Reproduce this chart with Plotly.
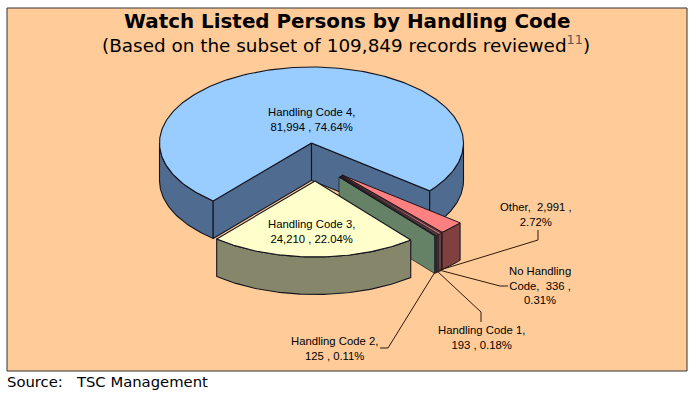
import numpy as np
import plotly.graph_objects as go

# Data, in drawing order around the pie (clockwise)
categories = ["Handling Code 4", "Other", "No Handling Code", "Handling Code 1", "Handling Code 2", "Handling Code 3"]
records = [81994, 2991, 336, 193, 125, 24210]
percent_labels = ["74.64%", "2.72%", "0.31%", "0.18%", "0.11%", "22.04%"]
title_text = "<b>Watch Listed Persons by Handling Code</b>"
subtitle_text = "(Based on the subset of 109,849 records reviewed<span style='color:#555555'><sup>11</sup></span>)"
source_text = "Source:   TSC Management"

# Style and layout
top_colors = ["#99CCFF", "#FF8080", "#CC7A7A", "#8F6A6A", "#CCFFCC", "#FFFFCC"]
side_colors = ["#4F6B8F", "#804040", "#8A4A4A", "#5A4A3A", "#658266", "#86866B"]
edge_widths = [1.1, 1.0, 0.6, 0.6, 0.7, 1.1]
offsets = [(0, 0), (30.5, 32), (29.5, 33), (28.5, 33.5), (27.5, 34), (3.5, 38)]
CX, CY, RX, RY, DEPTH = 311.5, 143.0, 152.0, 76.0, 37.5
START_DEG = 220.3
EDGE = "#14141E"

total = sum(records)
fracs = np.array(records) / total * 360
starts = (START_DEG + np.concatenate([[0], np.cumsum(fracs)[:-1]]))


def arc(a0, a1, cx, cy, n=None):
    n = n or max(2, int(abs(a1 - a0)) + 2)
    t = np.radians(np.linspace(a0, a1, n))
    return cx + RX * np.sin(t), cy - RY * np.cos(t)


def poly(xs, ys, color, w):
    return go.Scatter(x=np.round(xs, 2), y=np.round(ys, 2), mode="lines", fill="toself",
                      fillcolor=color, line=dict(color=EDGE, width=w), hoverinfo="skip",
                      showlegend=False)


def outer_side(a0, a1, cx, cy, color, w):
    """Visible part of the rim: clock angles 90..270 (+360k)."""
    out = []
    for k in (-360, 0, 360):
        lo, hi = max(a0, 90 + k), min(a1, 270 + k)
        if hi > lo:
            ax, ay = arc(lo, hi, cx, cy)
            out.append(poly(np.r_[ax, ax[::-1], ax[0]],
                            np.r_[ay, ay[::-1] + DEPTH, ay[0]], color, w))
    return out


def cut_face(a, cx, cy, color, w):
    ex, ey = arc(a, a, cx, cy, 2)
    return poly(np.array([cx, ex[0], ex[0], cx, cx]),
                np.array([cy, ey[0], ey[0] + DEPTH, cy + DEPTH, cy]), color, w)


def top_face(a0, a1, cx, cy, color, w):
    ax, ay = arc(a0, a1, cx, cy)
    return poly(np.r_[cx, ax, cx], np.r_[cy, ay, cy], color, w)


traces = []
# Main slice
a0, a1 = starts[0], starts[0] + fracs[0]
cx, cy = CX + offsets[0][0], CY + offsets[0][1]
w = edge_widths[0]
traces += outer_side(a0, a1, cx, cy, side_colors[0], w)
traces += [cut_face(a0, cx, cy, side_colors[0], w), cut_face(a1 % 360, cx, cy, side_colors[0], w)]
traces.append(top_face(a0, a1, cx, cy, top_colors[0], w))
# Exploded slices
for i in range(1, len(records)):
    a0 = starts[i] % 360
    a1 = a0 + fracs[i]
    cx, cy = CX + offsets[i][0], CY + offsets[i][1]
    w = edge_widths[i]
    if i < len(records) - 1:
        traces.append(cut_face(a1, cx, cy, side_colors[i], w))
    traces += outer_side(a0, a1, cx, cy, side_colors[i], w)
    traces.append(top_face(a0, a1, cx, cy, top_colors[i], w))

fig = go.Figure(traces)

# Leader lines
leaders = [
    ([440, 538, 538], [270, 240, 230]),
    ([439, 500, 508], [270, 286, 286]),
    ([437, 481, 481], [271, 312, 322]),
    ([435, 388, 380], [272, 348, 348]),
]
for lx, ly in leaders:
    fig.add_trace(go.Scatter(x=lx, y=ly, mode="lines", line=dict(color="#2A1A0A", width=1),
                             hoverinfo="skip", showlegend=False))

lab_font = dict(family="Liberation Sans", size=11.3, color="#000000")
labels = [
    (311, 119, "Handling Code 4,<br>81,994 , 74.64%"),
    (311, 231, "Handling Code 3,<br>24,210 , 22.04%"),
    (536, 214, "Other,  2,991 ,<br>2.72%"),
    (540, 285.5, "No Handling<br>Code,  336 ,<br>0.31%"),
    (481, 337, "Handling Code 1,<br>193 , 0.18%"),
    (334, 348, "Handling Code 2,<br>125 , 0.11%"),
]
annotations = [dict(x=x, y=y, text=t, showarrow=False, xref="x", yref="y", align="center",
                    font=lab_font) for x, y, t in labels]
annotations += [
    dict(x=347, y=21, text=title_text, showarrow=False, xref="x", yref="y",
         font=dict(family="DejaVu Sans", size=19.9, color="#000000")),
    dict(x=346, y=44, text=subtitle_text, showarrow=False, xref="x", yref="y",
         font=dict(family="DejaVu Sans", size=18.4, color="#000000")),
    dict(x=5, y=381.5, text=source_text, showarrow=False, xref="x", yref="y", xanchor="left",
         font=dict(family="DejaVu Sans", size=14.8, color="#000000")),
]

fig.update_layout(
    width=693, height=393, margin=dict(l=0, r=0, t=0, b=0),
    paper_bgcolor="#FFFFFF", plot_bgcolor="#FFFFFF", showlegend=False,
    xaxis=dict(range=[0, 693], visible=False, fixedrange=True),
    yaxis=dict(range=[393, 0], visible=False, fixedrange=True),
    annotations=annotations,
    shapes=[dict(type="rect", x0=7, y0=8, x1=687, y1=371, xref="x", yref="y", layer="below",
                 fillcolor="#FFCC99", line=dict(color="#333333", width=1))],
)
fig.write_html("out.html", config={"displayModeBar": False},
               post_script="document.body.style.margin='0';document.body.style.overflow='hidden';")
